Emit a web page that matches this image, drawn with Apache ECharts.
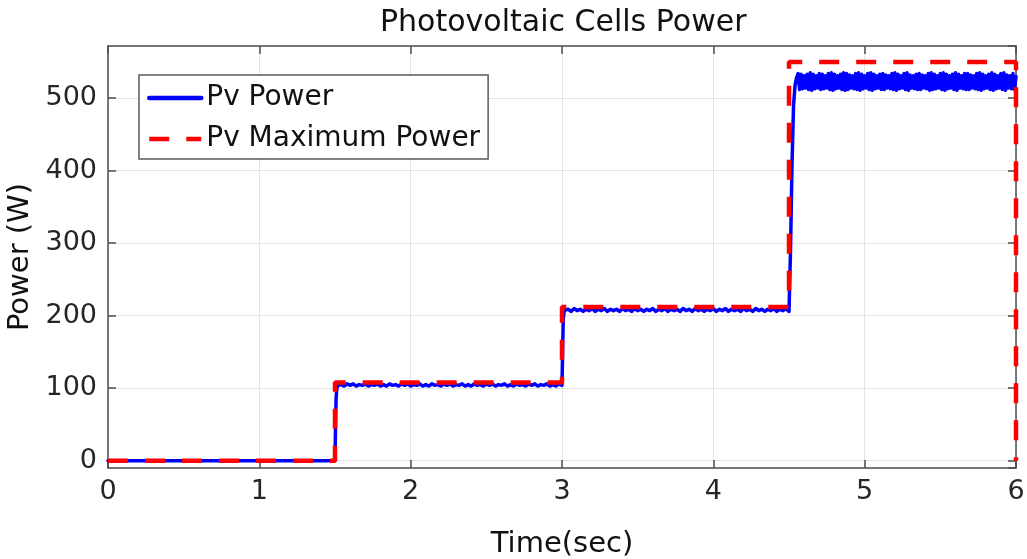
<!DOCTYPE html>
<html>
<head>
<meta charset="utf-8">
<script src="https://cdn.jsdelivr.net/npm/echarts@6/dist/echarts.min.js"></script>
<style>html,body{margin:0;padding:0;background:#fff}#c{width:1027px;height:559px}</style>
</head>
<body>
<div id="c"></div>
<script>
// ---- data ----
const xTicks = [0, 1, 2, 3, 4, 5, 6];
const yTicks = [0, 100, 200, 300, 400, 500];

// Pv Maximum Power (dashed red), [time, W]
const maxPower = [[0, 0], [1.5, 0], [1.5, 108], [3, 108], [3, 212], [4.5, 212], [4.5, 550], [6, 550], [6, 0]];

// Pv Power (blue): flat start + steps
const pvStart = [[0, 0], [1.5, 0], [1.503, 40], [1.507, 85], [1.512, 100], [1.52, 104]];
const ripple1Start = 1.54, ripple1Step = 0.02;
const ripple1 = [
  105,103,106,104,106,103,105,104,106,103,105,104,106,103,105,103,106,104,105,103,
  106,104,106,103,105,104,106,103,105,103,106,104,105,103,106,104,106,103,105,104,
  106,103,105,103,106,104,105,103,106,104,106,103,105,104,106,103,105,103,106,104,
  105,103,106,104,106,103,105,104,106,103,105,103,106,104
];
const pvStep2 = [[3.0, 105], [3.004, 150], [3.008, 195], [3.014, 205], [3.02, 208]];
const ripple2Start = 3.04, ripple2Step = 0.02;
const ripple2 = [
  209,206,210,207,209,206,209,207,210,206,209,207,210,206,209,207,209,206,210,207,
  209,206,210,207,209,206,209,207,210,206,209,207,210,206,209,207,209,206,210,207,
  209,206,210,207,209,206,209,207,210,206,209,207,210,206,209,207,209,206,210,207,
  209,206,210,207,209,206,209,207,210,206,209,207,210,206
];
const pvStep3 = [[4.5, 208], [4.51, 290], [4.52, 410], [4.53, 490], [4.54, 518], [4.55, 528]];
const bandStart = 4.56, bandStep = 0.01;
const band = [
  534,512,533,513,531,514,533,512,535,511,533,513,531,514,534,512,
  533,513,531,514,534,512,535,511,533,513,531,514,533,512,535,511,
  534,512,532,514,531,513,534,512,535,511,533,513,531,514,534,512,
  535,511,533,513,531,514,533,512,534,512,532,514,531,513,534,512,
  535,511,533,513,531,514,534,512,535,511,532,514,531,513,533,512,
  534,512,532,514,531,513,534,511,535,512,533,513,531,514,534,512,
  535,511,533,513,531,514,533,512,535,511,533,514,531,513,534,512,
  534,512,532,514,531,513,534,512,535,511,533,513,531,514,533,512,
  535,511,533,513,531,514,534,512,535,511,532,514,531,513,534,512,
  530
];

function sampled(start, step, vals) {
  return vals.map((v, i) => [+(start + i * step).toFixed(4), v]);
}
const pvPower = [].concat(
  pvStart,
  sampled(ripple1Start, ripple1Step, ripple1),
  pvStep2,
  sampled(ripple2Start, ripple2Step, ripple2),
  pvStep3,
  sampled(bandStart, bandStep, band)
);

const FONT = 'DejaVu Sans';
const axisColor = '#4d4d4d';
const textColor = '#262626';

const chart = echarts.init(document.getElementById('c'), null, {renderer: 'canvas'});
chart.setOption({
  animation: false,
  backgroundColor: '#ffffff',
  title: {
    text: 'Photovoltaic Cells Power',
    left: 375, top: 3,
    textStyle: {fontFamily: FONT, fontSize: 30, fontWeight: 'normal', color: '#111'}
  },
  grid: {left: 108, right: 11, top: 46, bottom: 91, outerBoundsMode: 'none'},
  legend: {
    orient: 'vertical', left: 139, top: 75,
    padding: [9, 8, 6, 8], itemGap: 13, itemWidth: 52, itemHeight: 14,
    backgroundColor: '#ffffff', borderColor: '#5a5a5a', borderWidth: 1.5,
    textStyle: {fontFamily: FONT, fontSize: 28, color: '#111'},
    itemStyle: {color: 'rgba(0,0,0,0)', borderWidth: 0, opacity: 0},
    lineStyle: {width: 4.5},
    data: ['Pv Power', 'Pv Maximum Power']
  },
  xAxis: [{
    type: 'value', min: xTicks[0], max: xTicks[xTicks.length - 1], interval: 1,
    name: 'Time(sec)', nameLocation: 'middle', nameGap: 62,
    nameTextStyle: {fontFamily: FONT, fontSize: 29, color: '#111'},
    axisLine: {show: true, onZero: false, lineStyle: {color: axisColor, width: 1.5}},
    axisTick: {show: true, inside: true, length: 8, lineStyle: {color: axisColor, width: 1.5}},
    axisLabel: {fontFamily: FONT, fontSize: 27, color: textColor, margin: 10},
    splitLine: {show: true, lineStyle: {color: '#e3e3e3', width: 1}}
  }, {
    type: 'value', position: 'top', min: xTicks[0], max: xTicks[xTicks.length - 1], interval: 1,
    axisLine: {show: true, onZero: false, lineStyle: {color: axisColor, width: 1.5}},
    axisTick: {show: true, inside: true, length: 8, lineStyle: {color: axisColor, width: 1.5}},
    axisLabel: {show: false}, splitLine: {show: false}
  }],
  yAxis: [{
    type: 'value', min: -10, max: 572,
    name: 'Power (W)', nameLocation: 'middle', nameGap: 70,
    nameTextStyle: {fontFamily: FONT, fontSize: 29, color: '#111'},
    axisLine: {show: true, onZero: false, lineStyle: {color: axisColor, width: 1.5}},
    axisTick: {show: true, inside: true, length: 8, lineStyle: {color: axisColor, width: 1.5}},
    axisLabel: {fontFamily: FONT, fontSize: 27, color: textColor, margin: 11,
      showMinLabel: false, showMaxLabel: false,
      formatter: v => (yTicks.indexOf(v) >= 0 ? String(v) : '')},
    splitLine: {show: true, lineStyle: {color: '#e3e3e3', width: 1}}
  }, {
    type: 'value', position: 'right', min: -10, max: 572,
    axisLine: {show: true, onZero: false, lineStyle: {color: axisColor, width: 1.5}},
    axisTick: {show: true, inside: true, length: 8, lineStyle: {color: axisColor, width: 1.5}},
    axisLabel: {show: false}, splitLine: {show: false}
  }],
  series: [{
    name: 'Pv Power', type: 'line', xAxisIndex: 0, yAxisIndex: 0,
    data: pvPower, showSymbol: false, symbol: 'none',
    lineStyle: {color: '#0000ff', width: 3.5, join: 'round', cap: 'round'},
    itemStyle: {color: '#0000ff'}
  }, {
    name: 'Pv Maximum Power', type: 'line', xAxisIndex: 0, yAxisIndex: 0,
    data: maxPower, showSymbol: false, symbol: 'none',
    lineStyle: {color: '#ff0000', width: 4.5, type: [20, 17]},
    itemStyle: {color: '#ff0000'}
  }]
});
</script>
</body>
</html>
